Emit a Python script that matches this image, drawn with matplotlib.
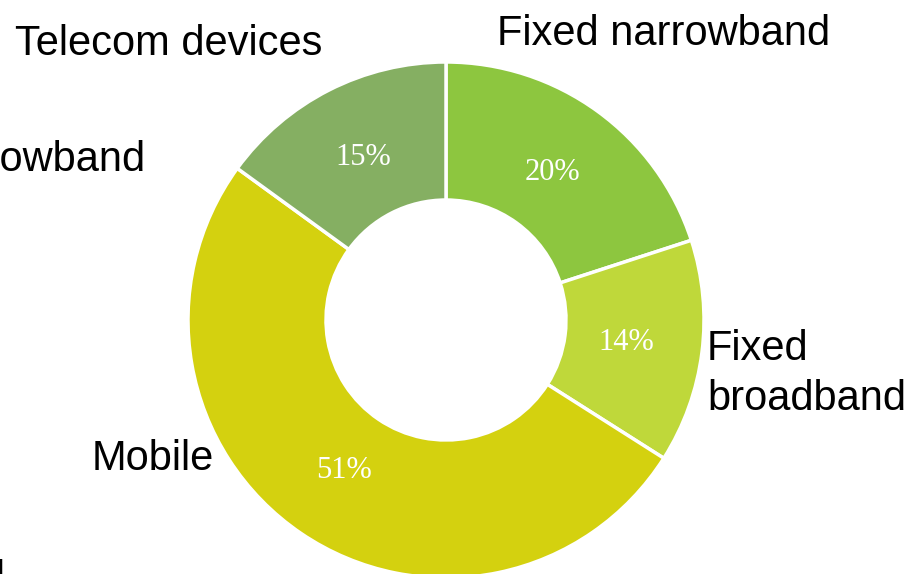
import matplotlib
matplotlib.use("Agg")
import matplotlib.pyplot as plt

# Revenue share by segment
segments = ["Fixed narrowband", "Fixed broadband", "Mobile", "Telecom devices"]
shares = [20, 14, 51, 15]
colors = ["#8DC63F", "#BFD83A", "#D4D10F", "#85AF62"]

W, H = 913, 574
fig = plt.figure(figsize=(W / 100, H / 100), dpi=100)
ax = fig.add_axes([0, 0, 1, 1])

# work in pixel-like units (y measured from the top)
def Y(y):
    return H - y

cx, cy, R = 446, 320, 258
wedges, texts, autotexts = ax.pie(
    shares,
    colors=colors,
    startangle=90,
    counterclock=False,
    radius=R,
    center=(cx, Y(cy)),
    autopct="%d%%",
    pctdistance=0.705,
    wedgeprops=dict(width=138, edgecolor="white", linewidth=2.5),
    textprops=dict(color="white", fontsize=22, family="Liberation Serif"),
)

ax.set_xlim(0, W)
ax.set_ylim(0, H)
ax.set_aspect("auto")
ax.axis("off")

lab = dict(fontsize=30, family="Liberation Sans", color="black", va="baseline")
ax.text(15, Y(55), "Telecom devices", ha="left", **lab)
ax.text(497, Y(45), "Fixed narrowband", ha="left", **lab)
ax.text(707, Y(360), "Fixed", ha="left", **lab)
ax.text(707, Y(410), "broadband", ha="left", **lab)
ax.text(92, Y(470), "Mobile", ha="left", **lab)
# neighbouring panel's labels, running off the left edge
ax.text(145, Y(171), "Fixed narrowband", ha="right", **lab)
ax.text(5, Y(590), "broadband", ha="right", **lab)

fig.savefig("out.png", dpi=100, facecolor="white")
